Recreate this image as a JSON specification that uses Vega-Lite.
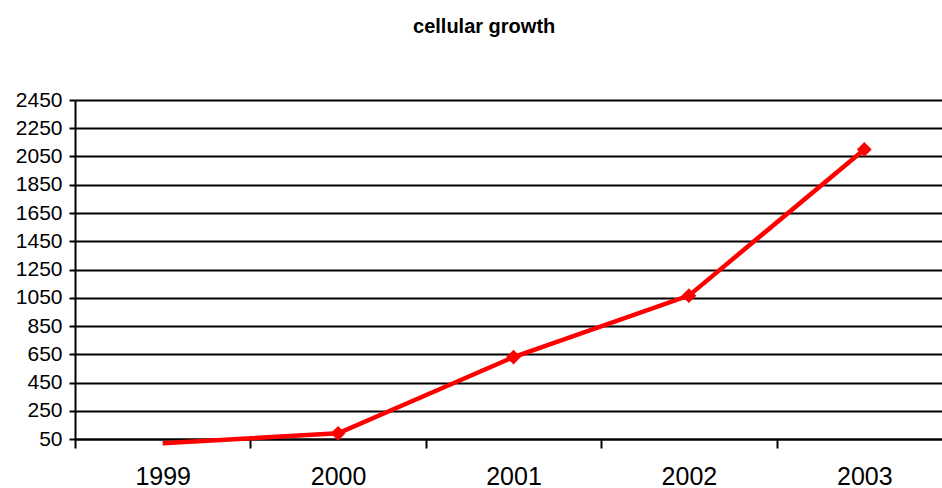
{
  "$schema": "https://vega.github.io/schema/vega-lite/v6.json",
  "autosize": {"type": "none"},
  "padding": {"left": 75, "top": 100, "right": 0, "bottom": 49},
  "width": 867,
  "height": 339,
  "title": {
    "text": "cellular growth",
    "fontSize": 20,
    "fontWeight": "bold",
    "font": "Liberation Sans",
    "color": "black",
    "anchor": "middle",
    "frame": "bounds",
    "baseline": "alphabetic",
    "offset": 36
  },
  "config": {
    "view": {"stroke": null},
    "font": "Liberation Sans"
  },
  "data": {
    "values": [
      {"year": "1999", "value": 20},
      {"year": "2000", "value": 90},
      {"year": "2001", "value": 630},
      {"year": "2002", "value": 1065},
      {"year": "2003", "value": 2100}
    ]
  },
  "encoding": {
    "x": {
      "field": "year",
      "type": "ordinal",
      "scale": {"type": "band", "range": [0, 877], "paddingInner": 0, "paddingOuter": 0},
      "axis": {
        "title": null,
        "labelAngle": 0,
        "labelFontSize": 25,
        "labelColor": "black",
        "labelFont": "Liberation Sans",
        "labelPadding": 16,
        "tickBand": "extent",
        "tickSize": 9,
        "tickWidth": 2,
        "tickColor": "black",
        "domainColor": "black",
        "domainWidth": 2,
        "grid": false
      }
    },
    "y": {
      "field": "value",
      "type": "quantitative",
      "scale": {"domain": [50, 2450], "nice": false, "zero": false},
      "axis": {
        "title": null,
        "format": "d",
        "values": [50, 250, 450, 650, 850, 1050, 1250, 1450, 1650, 1850, 2050, 2250, 2450],
        "labelFontSize": 21,
        "labelColor": "black",
        "labelFont": "Liberation Sans",
        "labelPadding": 7,
        "tickSize": 6,
        "tickWidth": 2,
        "tickColor": "black",
        "domainColor": "black",
        "domainWidth": 2,
        "grid": true,
        "gridColor": "black",
        "gridWidth": 2,
        "gridOpacity": 1
      }
    }
  },
  "layer": [
    {
      "mark": {"type": "line", "color": "#FF0000", "strokeWidth": 4.5, "clip": false}
    },
    {
      "transform": [{"filter": "datum.year != '1999'"}],
      "mark": {"type": "point", "shape": "diamond", "filled": true, "color": "#FF0000", "size": 220, "opacity": 1}
    }
  ]
}
